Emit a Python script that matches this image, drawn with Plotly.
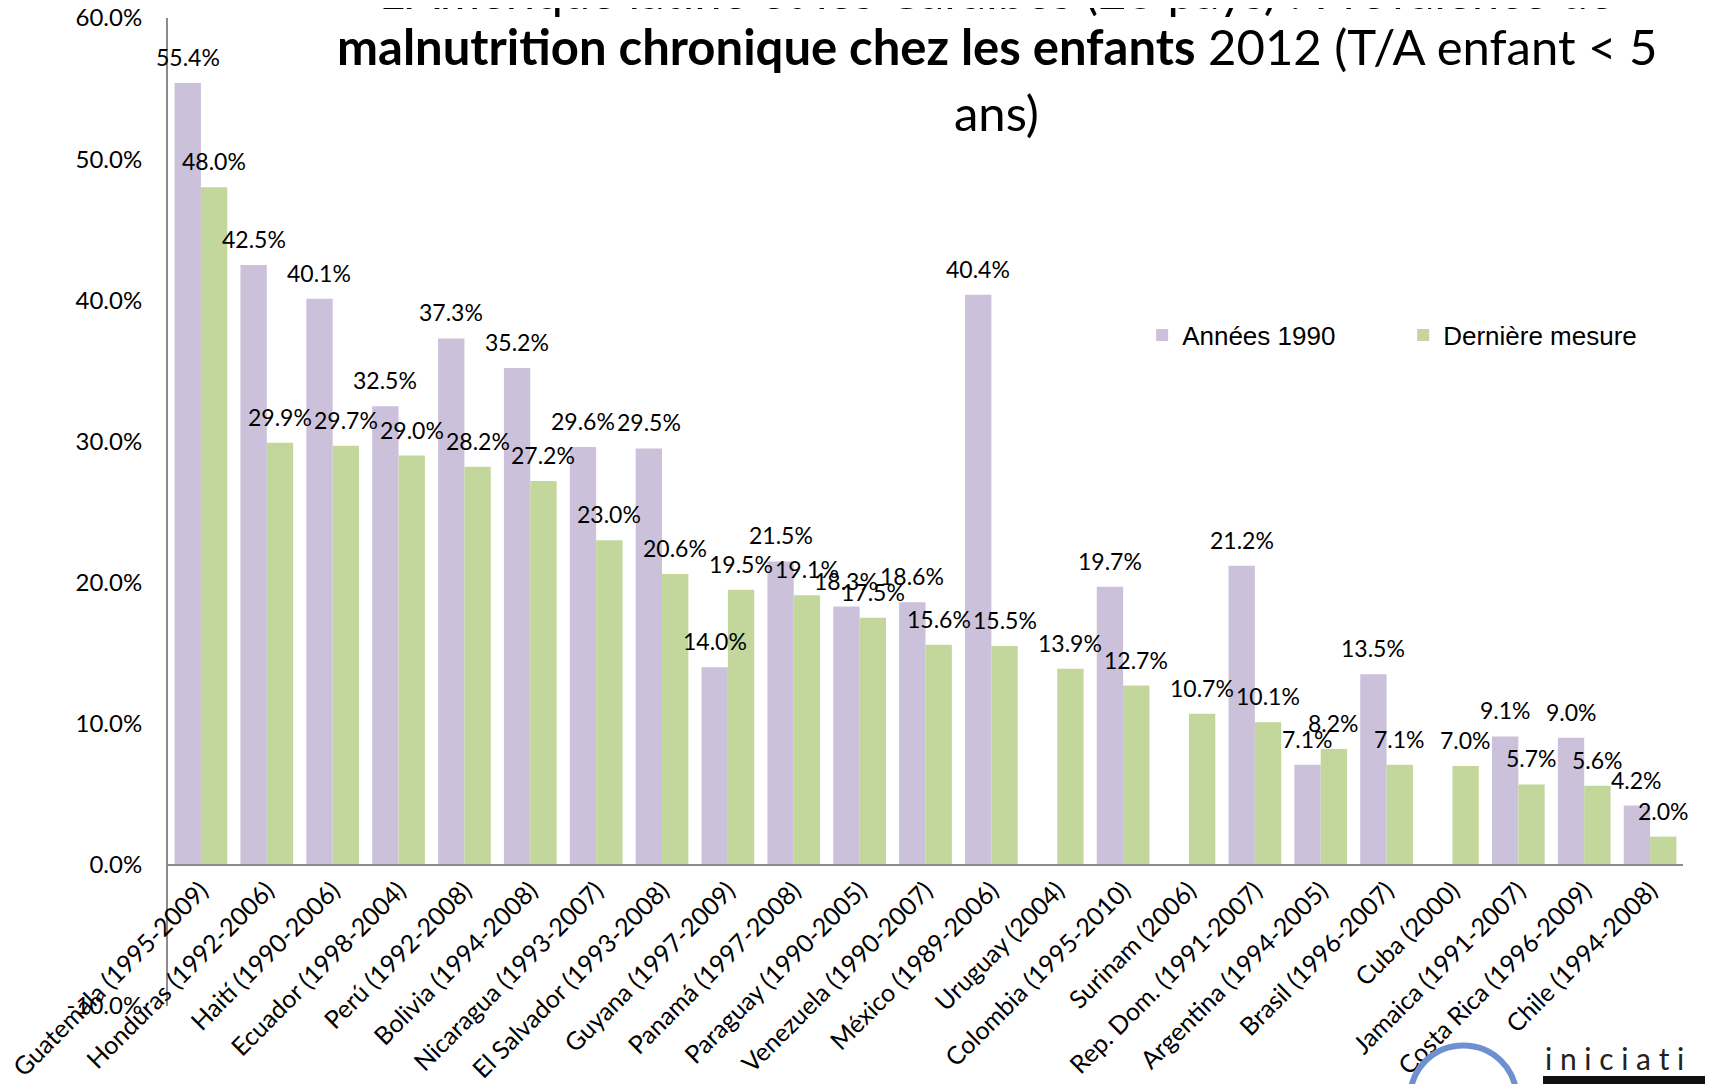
"""Prévalence de malnutrition chronique chez les enfants, Amérique latine et Caraïbes."""

import plotly.graph_objects as go

COLOR_1990 = "#CCC1DA"
COLOR_LAST = "#C3D69B"
FONT = "Lato"

WIDTH, HEIGHT = 1713, 1084
MARGIN = {"l": 160, "r": 38, "t": 10, "b": 86}
BARGAP = 0.2

countries = [
    "Guatemala (1995-2009)", "Honduras (1992-2006)", "Haití (1990-2006)",
    "Ecuador (1998-2004)", "Perú (1992-2008)", "Bolivia (1994-2008)",
    "Nicaragua (1993-2007)", "El Salvador (1993-2008)", "Guyana (1997-2009)",
    "Panamá (1997-2008)", "Paraguay (1990-2005)", "Venezuela (1990-2007)",
    "México (1989-2006)", "Uruguay (2004)", "Colombia (1995-2010)",
    "Surinam (2006)", "Rep. Dom. (1991-2007)", "Argentina (1994-2005)",
    "Brasil (1996-2007)", "Cuba (2000)", "Jamaica (1991-2007)",
    "Costa Rica (1996-2009)", "Chile (1994-2008)",
]
annees_1990 = [
    55.4, 42.5, 40.1, 32.5, 37.3, 35.2, 29.6, 29.5, 14.0, 21.5, 18.3, 18.6,
    40.4, None, 19.7, None, 21.2, 7.1, 13.5, None, 9.1, 9.0, 4.2,
]
derniere_mesure = [
    48.0, 29.9, 29.7, 29.0, 28.2, 27.2, 23.0, 20.6, 19.5, 19.1, 17.5, 15.6,
    15.5, 13.9, 12.7, 10.7, 10.1, 8.2, 7.1, 7.0, 5.7, 5.6, 2.0,
]
y_ticks = [-10, 0, 10, 20, 30, 40, 50, 60]
y_tick_text = ["-10.0%", "0.0%", "10.0%", "20.0%", "30.0%", "40.0%", "50.0%", "60.0%"]

title_lines = [
    "L'Amérique latine et les Caraïbes (23 pays) : Prévalence de",
    "<b>malnutrition chronique chez les enfants</b> 2012 (T/A enfant < 5",
    "ans)",
]

series = [
    ("Années 1990", annees_1990, COLOR_1990),
    ("Dernière mesure", derniere_mesure, COLOR_LAST),
]

fig = go.Figure()
for name, values, color in series:
    fig.add_trace(
        go.Bar(
            x=countries,
            y=values,
            name=name,
            marker={"color": color, "line": {"width": 0}},
        )
    )

# value labels drawn on top of every bar (annotations so they are not hidden
# behind the neighbouring bar)
plot_w = WIDTH - MARGIN["l"] - MARGIN["r"]
bar_w = plot_w / len(countries) * (1 - BARGAP) / len(series)
for i, (_, values, _) in enumerate(series):
    shift = (i - (len(series) - 1) / 2) * bar_w
    for country, v in zip(countries, values):
        if v is None:
            continue
        fig.add_annotation(
            x=country, y=v, text=f"{v:.1f}%", showarrow=False,
            xshift=shift, yanchor="bottom", yshift=10,
            font={"family": FONT, "size": 23, "color": "#000000"},
        )

# title block, the first line runs off the top of the slide
for line, ypos in zip(title_lines, [1.028, 0.972, 0.905]):
    fig.add_annotation(
        text=line, x=0.547, y=ypos, xref="paper", yref="paper",
        xanchor="center", yanchor="middle", showarrow=False,
        font={"family": FONT, "size": 49, "color": "#000000"},
    )

# partial logo in the bottom-right corner of the slide
fig.add_shape(
    type="circle", xref="paper", yref="paper",
    x0=0.82, x1=0.89, y0=-0.040, y1=-0.145,
    line={"color": "#6E90D0", "width": 6},
)
fig.add_shape(
    type="rect", xref="paper", yref="paper",
    x0=0.9076, x1=1.03, y0=-0.0709, y1=-0.095,
    line={"width": 0}, fillcolor="#111111",
)
fig.add_annotation(
    text="i n i c i a t i", x=0.9076, y=-0.053, xref="paper", yref="paper",
    xanchor="left", yanchor="middle", showarrow=False,
    font={"family": FONT, "size": 30, "color": "#222222"},
)

fig.update_layout(
    width=WIDTH,
    height=HEIGHT,
    margin=MARGIN,
    paper_bgcolor="white",
    plot_bgcolor="white",
    barmode="group",
    bargap=BARGAP,
    bargroupgap=0,
    font={"family": FONT, "size": 23, "color": "#000000"},
    legend={
        "orientation": "h",
        "x": 0.643,
        "y": 0.679,
        "xanchor": "left",
        "yanchor": "middle",
        "font": {"family": "Liberation Sans", "size": 26},
        "entrywidth": 216,
        "entrywidthmode": "pixels",
        "bgcolor": "rgba(0,0,0,0)",
    },
    xaxis={
        "range": [-0.5, len(countries) - 0.5],
        "anchor": "free",
        "position": 10 / 70,
        "tickangle": -45,
        "showline": True,
        "linecolor": "#8C8C8C",
        "linewidth": 2,
        "ticks": "",
        "showgrid": False,
        "automargin": False,
        "tickfont": {"family": FONT, "size": 25},
    },
    yaxis={
        "range": [-10, 60],
        "tickvals": y_ticks,
        "ticktext": y_tick_text,
        "ticklabeloverflow": "allow",
        "showline": True,
        "linecolor": "#8C8C8C",
        "linewidth": 2,
        "showgrid": False,
        "zeroline": False,
        "ticks": "outside",
        "ticklen": 19,
        "tickcolor": "rgba(0,0,0,0)",
        "automargin": False,
        "tickfont": {"family": FONT, "size": 24},
    },
)

fig.write_html("out.html")
